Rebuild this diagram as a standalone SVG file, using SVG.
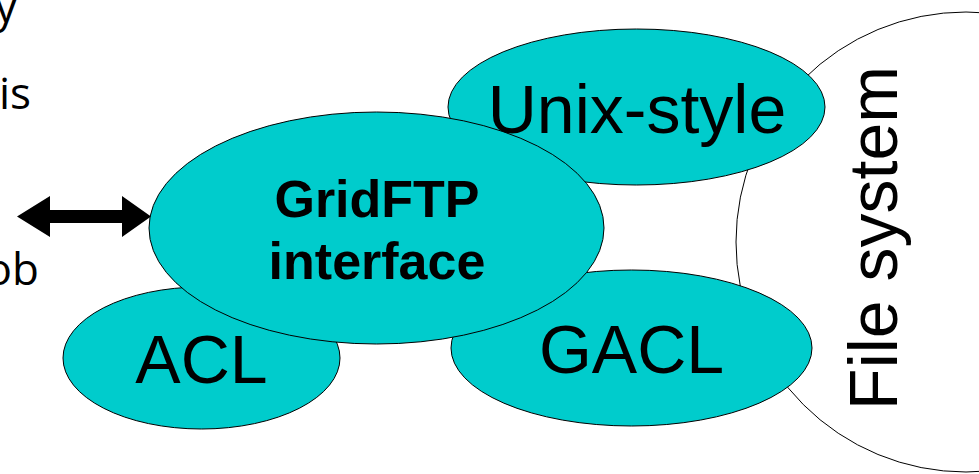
<svg xmlns="http://www.w3.org/2000/svg" width="979" height="474" viewBox="0 0 979 474">
<style>
.node{fill:#00CCCC;stroke:#000;stroke-width:1}
.fs{fill:#fff;stroke:#000;stroke-width:1}
.lbl{font-family:"Liberation Sans",Arial,sans-serif;font-size:68px;fill:#000;text-anchor:middle}
.bold{font-family:"Liberation Sans",Arial,sans-serif;font-size:52px;font-weight:bold;fill:#000;text-anchor:middle}
.side{font-family:"Open Sans","Noto Sans",sans-serif;font-size:44px;fill:#000;text-anchor:end}
</style>
<rect width="979" height="474" fill="#fff"/>
<text class="side" x="17" y="22">y</text>
<text class="side" x="31" y="109">is</text>
<text class="side" x="39" y="285">ob</text>
<g id="filesystem">
<circle class="fs" cx="966" cy="242" r="230"/>
<text class="lbl" transform="translate(897,238) rotate(-90)">File system</text>
</g>
<g id="acl"><ellipse class="node" cx="201.5" cy="358" rx="138.5" ry="71"/></g>
<g id="unix"><ellipse class="node" cx="636.5" cy="107" rx="188.5" ry="78"/></g>
<g id="gacl"><ellipse class="node" cx="631.5" cy="348" rx="180.5" ry="78"/></g>
<g id="gridftp"><ellipse class="node" cx="376.5" cy="228" rx="227.5" ry="116"/></g>
<text class="lbl" x="201.5" y="383">ACL</text>
<text class="lbl" x="637" y="133">Unix-style</text>
<text class="lbl" x="631.5" y="373">GACL</text>
<text class="bold" x="377" y="217">GridFTP</text>
<text class="bold" x="377" y="279">interface</text>
<g id="connectors">
<polygon points="17,216.5 50,196 50,210 122,210 122,196 151,216.5 122,237 122,223 50,223 50,237" fill="#000"/>
</g>
</svg>
